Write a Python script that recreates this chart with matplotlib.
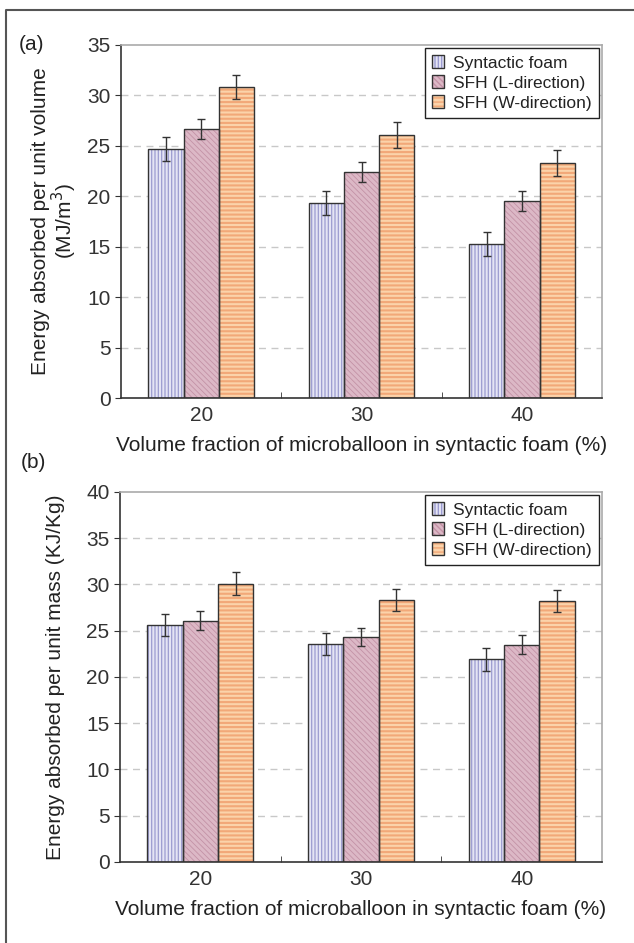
import matplotlib
matplotlib.use('Agg')
import matplotlib.pyplot as plt
from matplotlib.lines import Line2D
import numpy as np

plt.rcParams['font.family'] = ['Liberation Sans', 'DejaVu Sans']
plt.rcParams['text.color'] = '#222222'
plt.rcParams['axes.labelcolor'] = '#222222'
plt.rcParams['xtick.color'] = '#333333'
plt.rcParams['ytick.color'] = '#333333'

# volume fraction of microballoons (%)
fractions = ['20', '30', '40']
series = ['Syntactic foam', 'SFH (L-direction)', 'SFH (W-direction)']

# energy absorbed per unit volume (MJ/m3)
vol_foam = [24.7, 19.3, 15.3]
vol_L = [26.7, 22.4, 19.5]
vol_W = [30.8, 26.1, 23.3]
vol_foam_err = [1.2, 1.2, 1.2]
vol_L_err = [1.0, 1.0, 1.0]
vol_W_err = [1.2, 1.3, 1.3]

# energy absorbed per unit mass (KJ/Kg)
mass_foam = [25.6, 23.6, 21.9]
mass_L = [26.1, 24.3, 23.5]
mass_W = [30.1, 28.3, 28.2]
mass_foam_err = [1.2, 1.2, 1.2]
mass_L_err = [1.0, 1.0, 1.0]
mass_W_err = [1.2, 1.2, 1.2]

# fill, hatch colour, hatch pattern, hatch width
styles = [
    ('#e4e4f4', '#9c9cd0', '|||||', 0.9),
    ('#dcb8c6', '#c392a6', '\\\\\\\\\\\\', 0.6),
    ('#fbd3aa', '#f2a878', '----', 1.5),
]

fig = plt.figure(figsize=(6.34, 9.43), dpi=100)
ax1 = fig.add_axes([0.1909, 0.5779, 0.7587, 0.3744])
ax2 = fig.add_axes([0.1893, 0.0859, 0.7603, 0.3924])

x = np.arange(len(fractions))
w = 0.22
FS = 15


def draw(ax, vals, errs, ymax, ylabel, label_x):
    handles = []
    for i, (v, e, st) in enumerate(zip(vals, errs, styles)):
        fc, hc, hatch, hlw = st
        pos = x + (i - 1) * w
        with plt.rc_context({'hatch.linewidth': hlw}):
            b1 = ax.bar(pos, v, w, color=fc, edgecolor=hc, hatch=hatch,
                        linewidth=0, zorder=2)
        b2 = ax.bar(pos, v, w, fill=False, edgecolor='#333333',
                    linewidth=1.0, zorder=3)
        ax.errorbar(pos, v, yerr=e, fmt='none', ecolor='#333333',
                    elinewidth=1.0, capsize=3, capthick=1.0, zorder=4)
        handles.append((b1.patches[0], b2.patches[0]))

    ax.set_xlim(-0.5, 2.5)
    ax.set_ylim(0, ymax)
    ax.set_yticks(np.arange(0, ymax + 1, 5))
    ax.set_xticks(x)
    ax.set_xticklabels(fractions)
    ax.set_xticks([0.5, 1.5], minor=True)
    ax.tick_params(axis='x', which='major', length=0, labelsize=FS, pad=6)
    ax.tick_params(axis='x', which='minor', direction='in', length=4)
    ax.tick_params(axis='y', length=4, labelsize=FS)
    for yv in np.arange(5, ymax, 5):
        ax.axhline(yv, color='#c8c8c8', linestyle=(0, (5, 4)), linewidth=1.0,
                   zorder=1)
    ax.spines['top'].set_color('#aaaaaa')
    ax.spines['right'].set_color('#aaaaaa')
    ax.spines['left'].set_color('#333333')
    ax.spines['bottom'].set_color('#333333')
    for s in ax.spines.values():
        s.set_linewidth(1.2)
    ax.set_xlabel('Volume fraction of microballoon in syntactic foam (%)',
                  fontsize=FS, labelpad=8)
    ax.set_ylabel(ylabel, fontsize=FS, linespacing=1.0)
    ax.yaxis.set_label_coords(label_x, 0.5)
    leg = ax.legend(handles, series, loc='upper right', fontsize=12.5,
                    fancybox=False, framealpha=1, edgecolor='#222222',
                    handlelength=0.7, handleheight=0.7, handletextpad=0.5,
                    borderpad=0.4, labelspacing=0.28, borderaxespad=0.2,
                    bbox_to_anchor=(1.0, 1.0))
    leg.get_frame().set_linewidth(1.0)


draw(ax1, [vol_foam, vol_L, vol_W], [vol_foam_err, vol_L_err, vol_W_err], 35,
     'Energy absorbed per unit volume\n(MJ/m$^3$)', -0.088)
draw(ax2, [mass_foam, mass_L, mass_W], [mass_foam_err, mass_L_err, mass_W_err],
     40, 'Energy absorbed per unit mass (KJ/Kg)', -0.114)

fig.text(32 / 634, 1 - 45 / 943, '(a)', fontsize=FS, ha='center', va='center')
fig.text(33 / 634, 1 - 462 / 943, '(b)', fontsize=FS, ha='center', va='center')

# outer frame, left and top edges only
fig.add_artist(Line2D([6 / 634, 6 / 634, 1.0], [0.0, 1 - 10 / 943, 1 - 10 / 943],
                      transform=fig.transFigure, color='#555555', linewidth=1.5))

fig.savefig('out.png', dpi=100)
